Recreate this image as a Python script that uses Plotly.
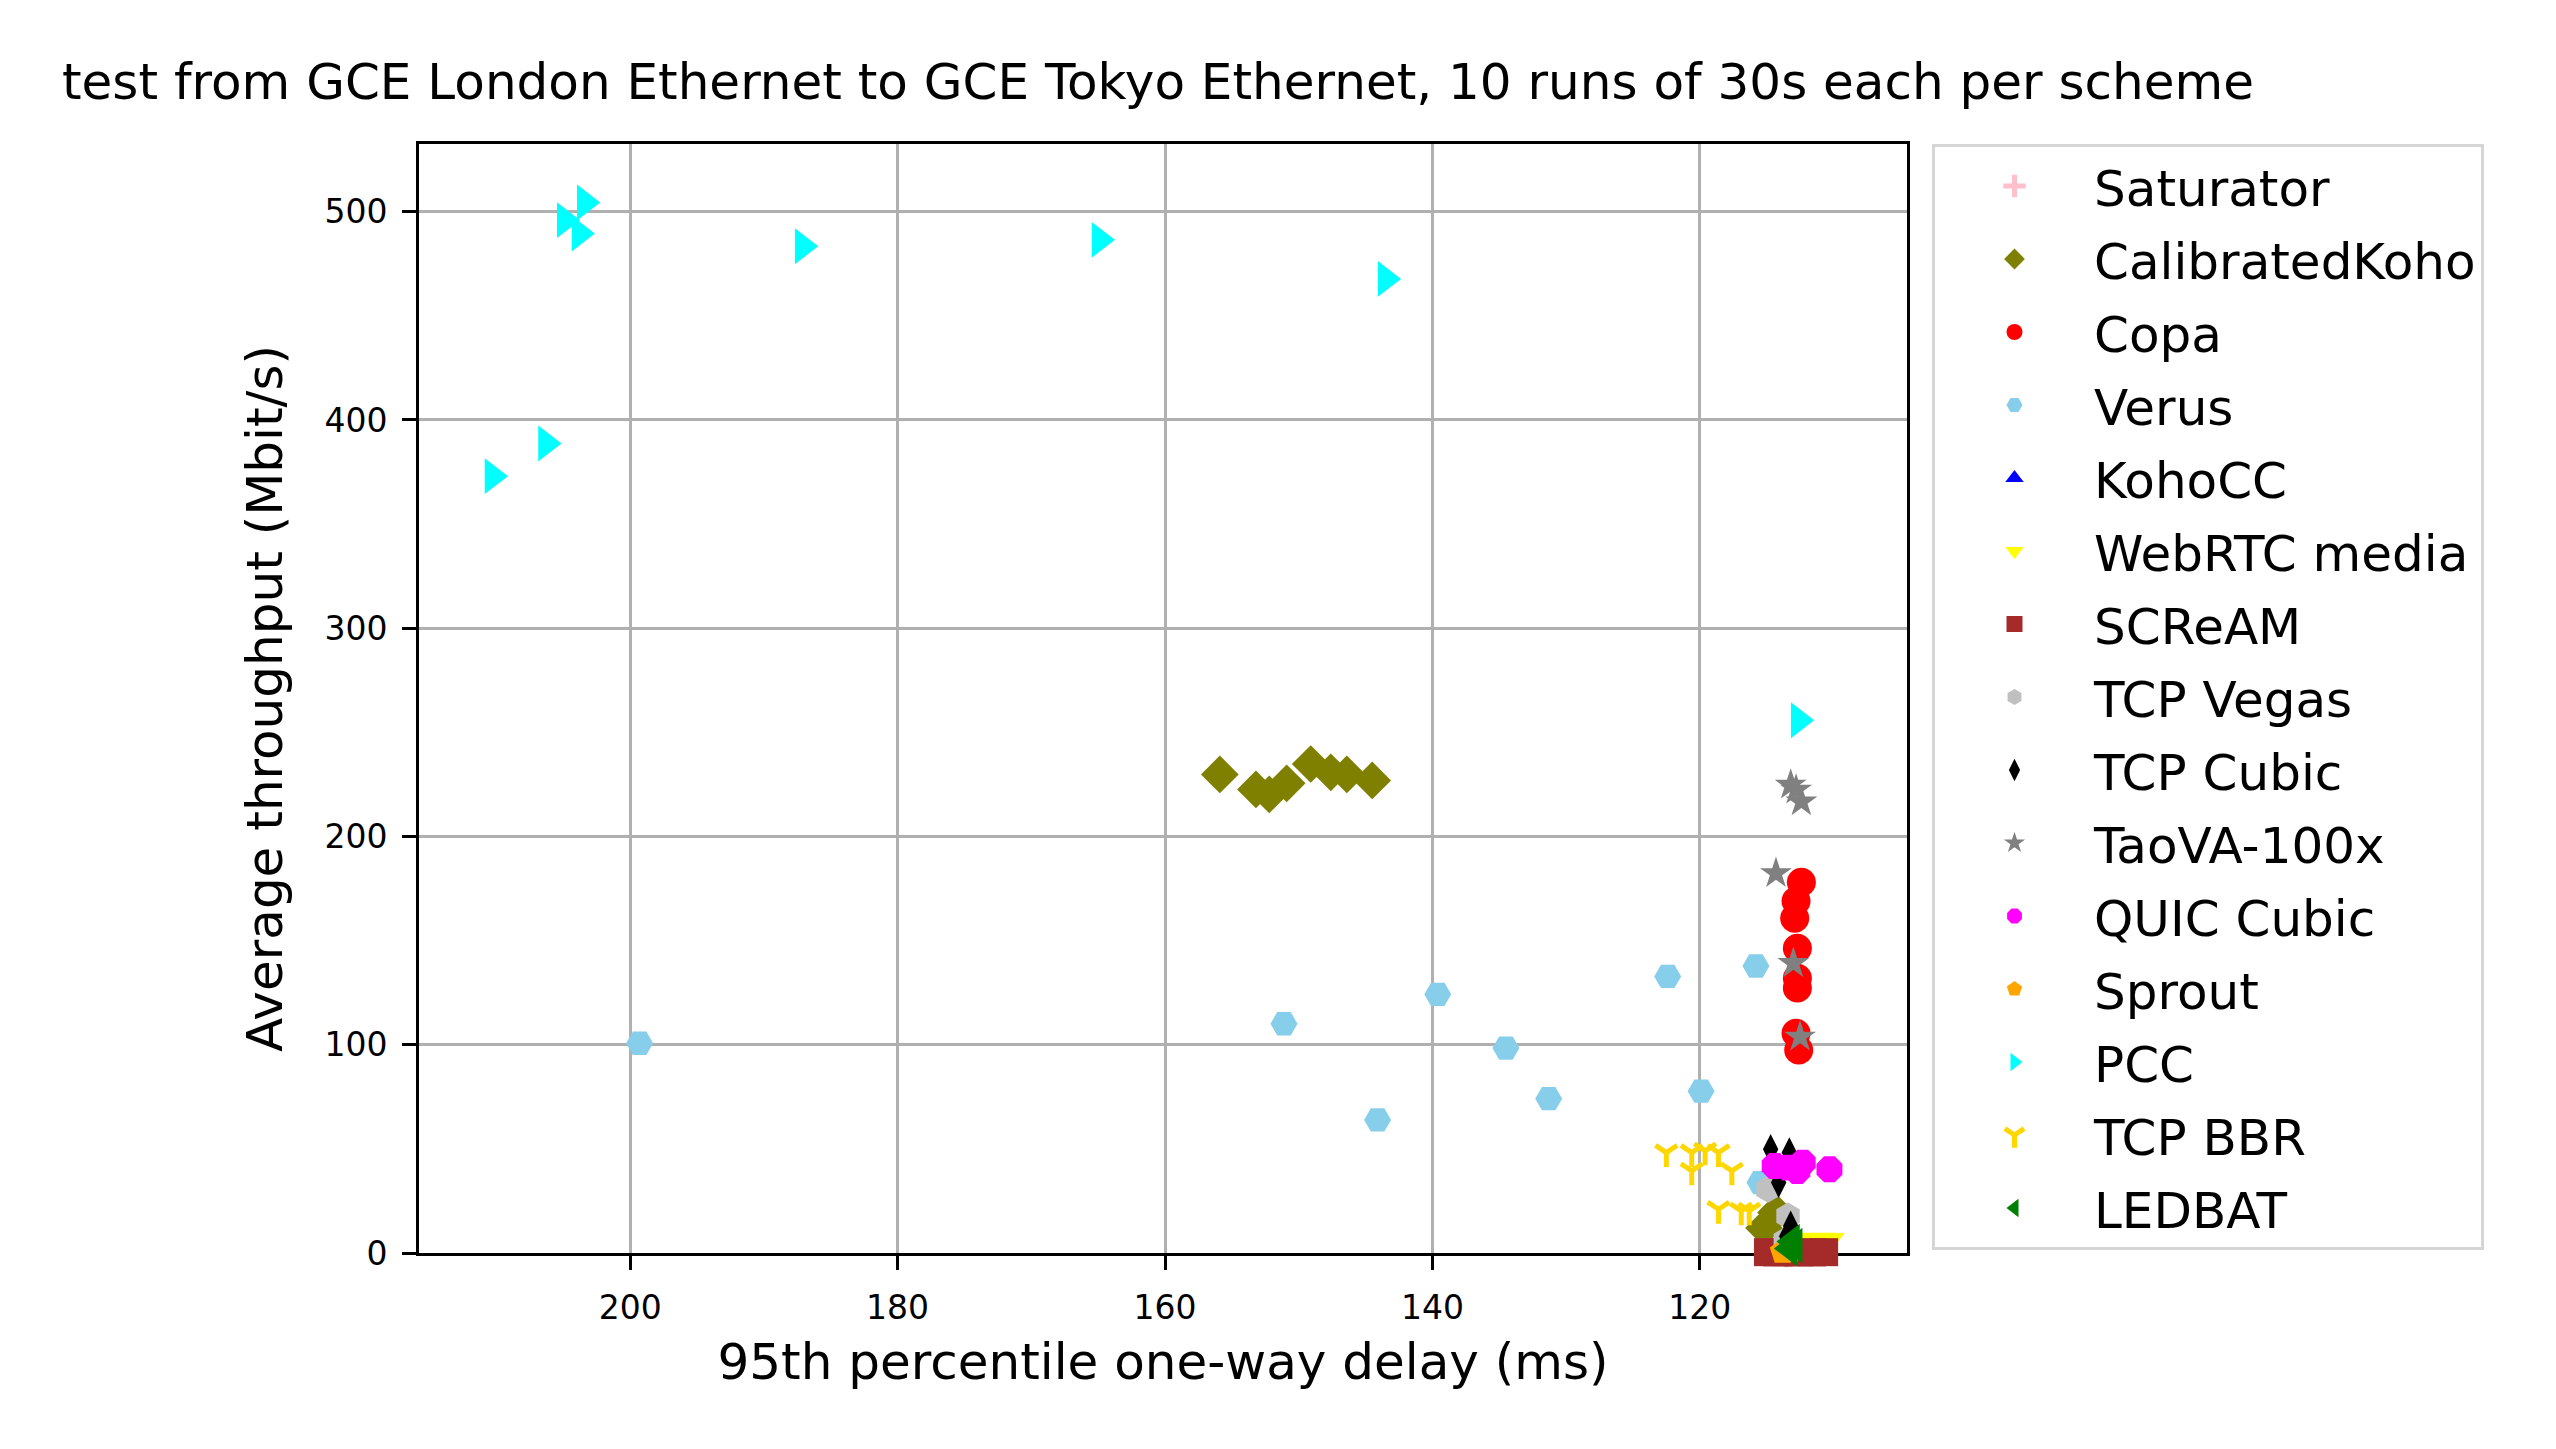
import plotly.graph_objects as go

# one-way delay (ms) / throughput (Mbit/s) per scheme
schemes = ["Saturator", "CalibratedKoho", "Copa", "Verus", "KohoCC", "WebRTC media",
           "SCReAM", "TCP Vegas", "TCP Cubic", "TaoVA-100x", "QUIC Cubic", "Sprout",
           "PCC", "TCP BBR", "LEDBAT"]

saturator_x = [113.6, 113.0]
saturator_y = [0.6, 0.8]

calibratedkoho_x = [155.9, 153.2, 152.2, 150.9, 149.1, 147.6, 146.4, 144.5, 114.3, 115.2]
calibratedkoho_y = [229.8, 222.6, 220.2, 225.5, 234.8, 230.8, 229.8, 226.9, 19.5, 12.0]

copa_x = [112.4, 112.8, 112.9, 112.7, 112.7, 112.7, 112.8, 112.6]
copa_y = [178.0, 169.0, 160.7, 146.3, 131.9, 127.2, 105.5, 97.5]

verus_x = [199.3, 151.1, 139.6, 134.5, 131.3, 144.1, 122.4, 115.8, 119.9, 115.5]
verus_y = [100.7, 110.1, 124.2, 98.4, 74.1, 63.9, 132.8, 137.8, 77.7, 33.8]

kohocc_x = [113.2, 112.6]
kohocc_y = [1.0, 0.8]

webrtc_x = [112.2, 111.2, 110.5]
webrtc_y = [5.8, 6.0, 5.9]

scream_x = [114.9, 114.2, 113.5, 112.6, 111.6, 110.7]
scream_y = [0.4, 0.3, 0.4, 0.3, 0.3, 0.4]

vegas_x = [114.9, 113.4, 113.6]
vegas_y = [30.6, 17.8, 6.0]

cubic_x = [114.7, 113.3, 114.1, 113.2, 113.5]
cubic_y = [49.8, 48.2, 33.8, 13.0, 8.0]

taova_x = [113.2, 112.8, 112.4, 114.3, 113.0, 112.5]
taova_y = [224.7, 222.3, 216.7, 182.3, 139.1, 103.8]

quic_x = [114.4, 112.7, 110.3, 112.3, 113.4]
quic_y = [41.8, 39.4, 40.2, 43.4, 41.0]

sprout_x = [113.8, 113.3]
sprout_y = [0.6, 1.2]

pcc_x = [203.4, 204.9, 203.8, 187.1, 164.9, 143.5, 210.3, 206.3, 112.6]
pcc_y = [504.4, 495.9, 489.5, 483.4, 486.5, 467.7, 373.0, 388.7, 255.8]

bbr_x = [122.5, 120.6, 119.6, 118.6, 120.6, 117.6, 118.6, 116.9, 116.3]
bbr_y = [48.2, 48.2, 49.0, 48.2, 39.4, 39.4, 21.0, 20.2, 20.2]

ledbat_x = [113.1, 112.9, 113.3]
ledbat_y = [5.5, 3.5, 2.2]

xs = [saturator_x, calibratedkoho_x, copa_x, verus_x, kohocc_x, webrtc_x, scream_x,
      vegas_x, cubic_x, taova_x, quic_x, sprout_x, pcc_x, bbr_x, ledbat_x]
ys = [saturator_y, calibratedkoho_y, copa_y, verus_y, kohocc_y, webrtc_y, scream_y,
      vegas_y, cubic_y, taova_y, quic_y, sprout_y, pcc_y, bbr_y, ledbat_y]

colors = ["pink", "#808000", "red", "#87ceeb", "blue", "yellow", "#a52a2a",
          "#c0c0c0", "black", "#808080", "magenta", "orange", "cyan", "#ffd700", "green"]
symbols = ["cross-thin", "diamond", "circle", "hexagon2", "triangle-up", "triangle-down",
           "square", "hexagon", "diamond-tall", "star", "octagon", "pentagon",
           "triangle-right", "y-down", "triangle-left"]
sizes = [22, 29, 29, 27, 31, 31, 28, 27, 22, 24, 28, 27, 31, 18, 31]
line_only = {"cross-thin", "y-down"}

fig = go.Figure()
for name, x, y, c, s, sz in zip(schemes, xs, ys, colors, symbols, sizes):
    if s in line_only:
        marker = dict(symbol=s, size=sz, color=c, line=dict(color=c, width=5))
    else:
        marker = dict(symbol=s, size=sz, color=c, line=dict(width=0))
    fig.add_trace(go.Scatter(x=x, y=y, mode="markers", name=name, marker=marker,
                             legendgroup=name, cliponaxis=False))

font = "DejaVu Sans"
axis_style = dict(
    showline=True, mirror=True, linecolor="black", linewidth=2.6,
    showgrid=True, gridcolor="#b0b0b0", gridwidth=2.6, zeroline=False,
    ticks="outside", ticklen=14, tickwidth=2.6, tickcolor="black",
    tickfont=dict(family=font, size=33, color="black"),
    layer="below traces",
)

fig.update_xaxes(range=[215.8, 104.5], tick0=120, dtick=20,
                 title=dict(text="95th percentile one-way delay (ms)",
                            font=dict(family=font, size=50, color="black"), standoff=18),
                 ticklabelstandoff=10, **axis_style)
fig.update_yaxes(range=[0, 532.5], tick0=0, dtick=100,
                 title=dict(text="Average throughput (Mbit/s)",
                            font=dict(family=font, size=50, color="black"), standoff=27),
                 ticklabelstandoff=8, **axis_style)

fig.update_layout(
    width=2556, height=1449,
    margin=dict(l=419, r=649, t=144, b=196),
    plot_bgcolor="white", paper_bgcolor="white",
    font=dict(family=font, color="black"),
    title=dict(text="test from GCE London Ethernet to GCE Tokyo Ethernet, 10 runs of 30s each per scheme",
               font=dict(family=font, size=50, color="black"),
               xref="container", x=62 / 2556, xanchor="left",
               yref="container", y=1 - 81 / 1449, yanchor="middle"),
    legend=dict(x=1.0168, xanchor="left", y=1.0, yanchor="top",
                font=dict(family=font, size=50, color="black"),
                bgcolor="white", bordercolor="#d6d6d6", borderwidth=3,
                traceorder="grouped", tracegroupgap=5, itemwidth=149,
                maxheight=1300),
    showlegend=True,
)

fig.write_html("out.html", config={"displayModeBar": False},
               post_script="document.body.style.margin='0';")
